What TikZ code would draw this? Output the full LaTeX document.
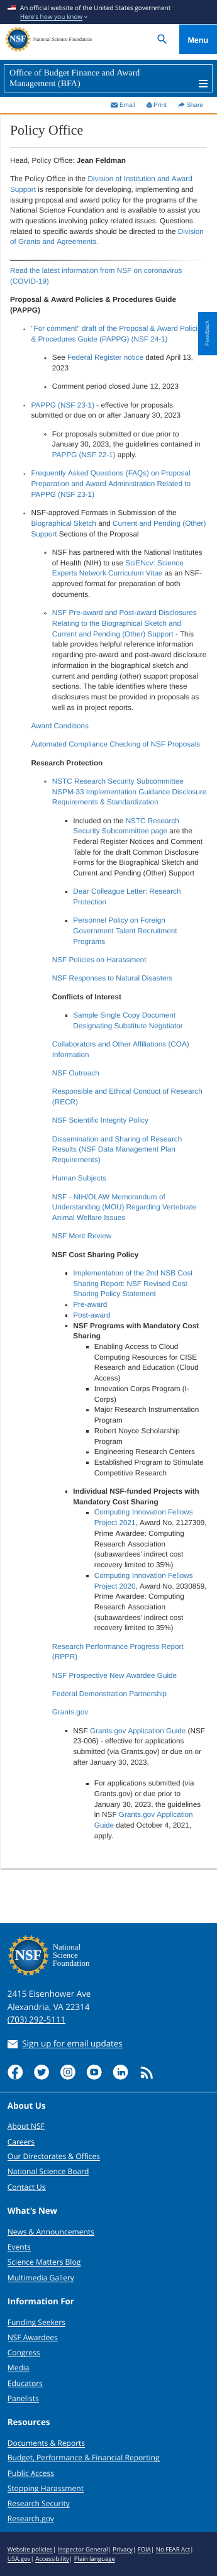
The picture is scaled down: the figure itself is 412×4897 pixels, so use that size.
\documentclass[tikz,border=0pt]{standalone}
\usepackage{fontspec}
\usepackage{xcolor}
\usetikzlibrary{positioning,shapes.geometric,calc}
\newfontfamily\bodyface{Liberation Sans}
\newfontfamily\titleface{Liberation Serif}
\newfontfamily\footface{Open Sans}
\definecolor{nsfInk}{HTML}{333333}
\definecolor{nsfLink}{HTML}{337AB7}
\definecolor{nsfNavy}{HTML}{1B2A4E}
\definecolor{nsfBlue}{HTML}{005EA2}
\definecolor{nsfBright}{HTML}{0071CE}
\definecolor{nsfOrange}{HTML}{E18A2B}
\definecolor{nsfGold}{HTML}{E0AE46}
\definecolor{nsfPale}{HTML}{BFE0F5}
\definecolor{nsfBall}{HTML}{3F8FE0}
\newcommand{\lk}[1]{\textcolor{nsfLink}{#1}}
\newcommand{\ulk}[1]{\setbox0\hbox{#1}\rlap{\rule[-2pt]{\wd0}{0.6pt}}\box0}
\newcommand{\nsfseal}[5]{%
  \foreach \a in {0,20,...,340}
    \node[star,star points=5,star point ratio=2.2,fill=nsfGold,inner sep=0pt,minimum size=#4] at ($(#1,#2)+(\a:#3*0.84)$) {};
  \draw[nsfGold,line width=#3*0.06] (#1,#2) circle (#3*0.76);
  \shade[inner color=nsfBall,outer color=nsfBlue!70!black] (#1,#2) circle (#3*0.74);
  \node[font=\titleface\bfseries\fontsize{#5}{#5}\selectfont,text=white,inner sep=0pt] at (#1,#2) {NSF};
}
\begin{document}
\begin{tikzpicture}[x=1pt,y=-1pt,
  para/.style={anchor=base west,inner sep=0pt,align=left,text=nsfInk,
    font=\bodyface\fontsize{14}{20}\selectfont\frenchspacing},
  toollink/.style={anchor=base west,inner sep=0pt,text=nsfLink,font=\bodyface\fontsize{12}{14}\selectfont},
  footline/.style={anchor=base west,inner sep=0pt,align=left,text=white,
    font=\footface\fontsize{16}{24}\selectfont},
  foothead/.style={footline,font=\footface\bfseries\fontsize{16}{20}\selectfont},
  footlink/.style={footline,font=\footface\fontsize{14.4}{20}\selectfont},
  legal/.style={footline,font=\footface\fontsize{11.5}{17.5}\selectfont},
  dotbul/.style={fill=nsfInk},
  ringbul/.style={draw=nsfInk,line width=0.8pt},
  sqbul/.style={fill=nsfInk}
]
\useasboundingbox (0,0) rectangle (412,4897);
\fill[white] (0,0) rectangle (412,4897);
\fill[nsfNavy] (0,0) rectangle (412,46);
\fill[nsfBright] (341,47) rectangle (412,103);
\fill[nsfBlue] (0,114) rectangle (412,184);
\draw[nsfPale,line width=0.7pt] (8,122.5) rectangle (403.5,175);
\fill[nsfOrange] (0,215) rectangle (412,218);
\fill[black!8] (0,218) rectangle (1,3552);
\shade[top color=black!30,bottom color=white] (1,3552) rectangle (412,3555);
\fill[black!14] (19,280) rectangle (392,280.7);
\shade[left color=black!55,right color=white] (19,494.6) rectangle (392,495.4);
\fill[nsfBlue] (0,3656) rectangle (412,4813);
\fill[nsfNavy] (0,4813) rectangle (412,4897);
\fill[nsfPale] (0,3976.6) rectangle (412,3977.4);

\fill[red!75!black] (14,9) rectangle (30,19);
\foreach \y in {10.4,12.8,15.2,17.6} \fill[white] (14,\y) rectangle (30,\y+1.2);
\fill[nsfBlue!70!black] (14,9) rectangle (21,14.5);
\node[anchor=base west,inner sep=0pt,text=white,font=\footface\fontsize{12}{14}\selectfont] (official) at (38,19.5) {An official website of the United States government};
\node[anchor=base west,inner sep=0pt,text=nsfPale,font=\footface\fontsize{12}{14}\selectfont] (howknow) at (38,36.5) {\ulk{Here's how you know}};
\draw[nsfPale,line width=0.7pt] (160.5,31) -- (163,33.5) -- (165.5,31);

\nsfseal{34}{74.5}{24.5}{8pt}{17}
\node[anchor=base west,inner sep=0pt,text=black!80,font=\titleface\fontsize{9.6}{12}\selectfont] (sealname) at (63,78) {National Science Foundation};
\draw[nsfBright!85!black,line width=1.6pt] (306,72) circle (6);
\draw[nsfBright!85!black,line width=2pt] (310.5,77) -- (316,82.5);
\node[inner sep=0pt,text=white,anchor=base,font=\bodyface\bfseries\fontsize{15}{17}\selectfont] (menu) at (376.5,82) {Menu};

\node[anchor=base west,inner sep=0pt,align=left,text=white,font=\titleface\fontsize{16.8}{20}\selectfont] (office) at (18,164) {Office of Budget Finance and Award\\Management (BFA)};
\foreach \y in {152,158,164} \fill[white] (378,\y) rectangle (395,\y+2.6);

\fill[nsfLink] (211,195) rectangle (223,204.5);
\draw[white,line width=0.8pt] (211,196.5) -- (217,201) -- (223,196.5);
\node[toollink] (email) at (227,204) {Email};
\fill[nsfLink] (280.5,195) rectangle (287,198) (278.5,198.5) rectangle (289,203) (280.5,203) rectangle (287,205);
\fill[white] (281,200.5) rectangle (286.5,201.5);
\node[toollink] (print) at (292,204) {Print};
\fill[nsfLink] (345,194) -- (351,198.5) -- (345,203) -- (345,200.5) .. controls (342.5,200.5) and (340.5,201.5) .. (339,204.5) .. controls (339,200) and (341,197) .. (345,196.5) -- cycle;
\node[toollink] (share) at (354,204) {Share};

\node[anchor=base west,inner sep=0pt,text=nsfInk,font=\titleface\fontsize{26}{28}\selectfont] (pagetitle) at (19,257) {Policy Office};

\node[para] (head) at (19,310) {Head, Policy Office: \textbf{Jean Feldman}};
\node[para] (intro) at (19,465) {The Policy Office in the \lk{Division of Institution and Award}\\\lk{Support} is responsible for developing, implementing and\\issuing proposal and award policy for the programs of the\\National Science Foundation and is available to assist you\\with questions involving policy related issues. Questions\\related to specific awards should be directed to the \lk{Division}\\\lk{of Grants and Agreements.}};
\node[para] (covid) at (19,540) {\lk{Read the latest information from NSF on coronavirus}\\\lk{(COVID-19)}};
\node[para] (pappg) at (19,595) {\textbf{Proposal \& Award Policies \& Procedures Guide}\\\textbf{(PAPPG)}};
\node[para] (draft) at (59,650) {\lk{"For comment" draft of the Proposal \& Award Policies}\\\lk{\& Procedures Guide (PAPPG) (NSF 24-1)}};
\node[para] (fednotice) at (99,705) {See \lk{Federal Register notice} dated April 13,\\2023};
\node[para] (closed) at (99,740) {Comment period closed June 12, 2023};
\node[para] (current) at (59,795) {\lk{PAPPG (NSF 23-1)} - effective for proposals\\submitted or due on or after January 30, 2023};
\node[para] (prior) at (99,870) {For proposals submitted or due prior to\\January 30, 2023, the guidelines contained in\\\lk{PAPPG (NSF 22-1)} apply.};
\node[para] (faqs) at (59,945) {\lk{Frequently Asked Questions (FAQs) on Proposal}\\\lk{Preparation and Award Administration Related to}\\\lk{PAPPG (NSF 23-1)}};
\node[para] (formats) at (59,1020) {NSF-approved Formats in Submission of the\\\lk{Biographical Sketch} and \lk{Current and Pending (Other)}\\\lk{Support} Sections of the Proposal};
\node[para] (partner) at (99,1135) {NSF has partnered with the National Institutes\\of Health (NIH) to use \lk{SciENcv: Science}\\\lk{Experts Network Curriculum Vitae} as an NSF-\\approved format for preparation of both\\documents.};
\node[para] (disclosures) at (99,1350) {\lk{NSF Pre-award and Post-award Disclosures}\\\lk{Relating to the Biographical Sketch and}\\\lk{Current and Pending (Other) Support} - This\\table provides helpful reference information\\regarding pre-award and post-award disclosure\\information in the biographical sketch and\\current and pending (other) support proposal\\sections. The table identifies where these\\disclosures must be provided in proposals as\\well as in project reports.};
\node[para] (conditions) at (59,1385) {\lk{Award Conditions}};
\node[para] (compliance) at (59,1420) {\lk{Automated Compliance Checking of NSF Proposals}};
\node[para] (protection) at (59,1455) {\textbf{Research Protection}};
\node[para] (nstc) at (99,1530) {\lk{NSTC Research Security Subcommittee}\\\lk{NSPM-33 Implementation Guidance Disclosure}\\\lk{Requirements \& Standardization}};
\node[para] (included) at (139,1665) {Included on the \lk{NSTC Research}\\\lk{Security Subcommittee page} are the\\Federal Register Notices and Comment\\Table for the draft Common Disclosure\\Forms for the Biographical Sketch and\\Current and Pending (Other) Support};
\node[para] (dcl) at (139,1720) {\lk{Dear Colleague Letter: Research}\\\lk{Protection}};
\node[para] (personnel) at (139,1795) {\lk{Personnel Policy on Foreign}\\\lk{Government Talent Recruitment}\\\lk{Programs}};
\node[para] (harass) at (99,1830) {\lk{NSF Policies on Harassment}};
\node[para] (disasters) at (99,1865) {\lk{NSF Responses to Natural Disasters}};
\node[para] (conflicts) at (99,1900) {\textbf{Conflicts of Interest}};
\node[para] (sample) at (139,1955) {\lk{Sample Single Copy Document}\\\lk{Designating Substitute Negotiator}};
\node[para] (coa) at (99,2010) {\lk{Collaborators and Other Affiliations (COA)}\\\lk{Information}};
\node[para] (outreach) at (99,2045) {\lk{NSF Outreach}};
\node[para] (recr) at (99,2100) {\lk{Responsible and Ethical Conduct of Research}\\\lk{(RECR)}};
\node[para] (integrity) at (99,2135) {\lk{NSF Scientific Integrity Policy}};
\node[para] (sharing) at (99,2210) {\lk{Dissemination and Sharing of Research}\\\lk{Results (NSF Data Management Plan}\\\lk{Requirements)}};
\node[para] (human) at (99,2245) {\lk{Human Subjects}};
\node[para] (olaw) at (99,2320) {\lk{NSF - NIH/OLAW Memorandum of}\\\lk{Understanding (MOU) Regarding Vertebrate}\\\lk{Animal Welfare Issues}};
\node[para] (merit) at (99,2355) {\lk{NSF Merit Review}};
\node[para] (cost) at (99,2390) {\textbf{NSF Cost Sharing Policy}};
\node[para] (nsb) at (139,2545) {\lk{Implementation of the 2nd NSB Cost}\\\lk{Sharing Report: NSF Revised Cost}\\\lk{Sharing Policy Statement}\\\lk{Pre-award}\\\lk{Post-award}\\\textbf{NSF Programs with Mandatory Cost}\\\textbf{Sharing}};
\node[para] (programs) at (179,2805) {Enabling Access to Cloud\\Computing Resources for CISE\\Research and Education (Cloud\\Access)\\Innovation Corps Program (I-\\Corps)\\Major Research Instrumentation\\Program\\Robert Noyce Scholarship\\Program\\Engineering Research Centers\\Established Program to Stimulate\\Competitive Research};
\node[para] (individual) at (139,2860) {\textbf{Individual NSF-funded Projects with}\\\textbf{Mandatory Cost Sharing}};
\node[para] (fellows) at (179,3100) {\lk{Computing Innovation Fellows}\\\lk{Project 2021}, Award No. 2127309,\\Prime Awardee: Computing\\Research Association\\(subawardees' indirect cost\\recovery limited to 35\%)\\\lk{Computing Innovation Fellows}\\\lk{Project 2020}, Award No. 2030859,\\Prime Awardee: Computing\\Research Association\\(subawardees' indirect cost\\recovery limited to 35\%)};
\node[para] (rppr) at (99,3155) {\lk{Research Performance Progress Report}\\\lk{(RPPR)}};
\node[para] (newaward) at (99,3190) {\lk{NSF Prospective New Awardee Guide}};
\node[para] (fdp) at (99,3225) {\lk{Federal Demonstration Partnership}};
\node[para] (grants) at (99,3260) {\lk{Grants.gov}};
\node[para] (appguide) at (139,3355) {NSF \lk{Grants.gov Application Guide} (NSF\\23-006) - effective for applications\\submitted (via Grants.gov) or due on or\\after January 30, 2023.};
\node[para] (oldguide) at (179,3495) {For applications submitted (via\\Grants.gov) or due prior to\\January 30, 2023, the guidelines\\in NSF \lk{Grants.gov Application}\\\lk{Guide} dated October 4, 2021,\\apply.};

\foreach \y in {630,775,905,980} \fill[dotbul] (46,\y-4) circle (1.6);
\foreach \y in {685,740,830,1055,1170,1490} \draw[ringbul] (86,\y-4) circle (1.8);
\foreach \y in {1565,1700,1755,1935,2425,2485,2505,2525,2840,3295} \fill[sqbul] (124,\y-6) rectangle (128,\y-2);
\foreach \y in {2565,2645,2685,2725,2765,2785,2880,3000,3395} \fill[sqbul] (164,\y-6) rectangle (168,\y-2);

\nsfseal{54}{3717.5}{40}{12.5pt}{27}
\node[footline,font=\titleface\fontsize{15.4}{15.7}\selectfont] (footname) at (100,3738.4) {National\\Science\\Foundation};
\node[footline] (address) at (14,3845) {2415 Eisenhower Ave\\Alexandria, VA 22314\\\ulk{(703) 292-5111}};
\fill[white] (14,3878) rectangle (34,3894);
\draw[nsfBlue,line width=0.9pt] (14,3879) -- (24,3887) -- (34,3879);
\node[footline] (signup) at (42,3891) {\ulk{Sign up for email updates}};

\foreach \x in {29,79,129,179,229} \fill[white] (\x,3939) circle (14.3);
\fill[nsfBlue] (26,3953) -- (26,3942) -- (23,3942) -- (23,3938) -- (26,3938) -- (26,3935) .. controls (26,3931.5) and (28.5,3930) .. (31,3930) -- (34,3930) -- (34,3934) -- (32,3934) .. controls (31,3934) and (30.5,3934.5) .. (30.5,3935.5) -- (30.5,3938) -- (34,3938) -- (33.4,3942) -- (30.5,3942) -- (30.5,3953) -- cycle;
\begin{scope}[shift={(79,3939.5)}]
\fill[nsfBlue] (-8,5) .. controls (-4,8) and (5,8) .. (7,-3) -- (9,-5) -- (6.5,-4.5) -- (8,-6.5) -- (5.5,-5.5) .. controls (3,-8) and (-1,-6) .. (0,-3) .. controls (-3,-3) and (-6,-5) .. (-7.5,-6.5) .. controls (-8.5,-4) and (-7.5,-2) .. (-6,-1) -- (-8,-1.5) .. controls (-8,0.5) and (-6.5,1.5) .. (-5,2) -- (-7,2) .. controls (-6.5,3.5) and (-5,4) .. (-3.5,4.2) .. controls (-5,5) and (-6.5,5.2) .. (-8,5) -- cycle;
\end{scope}
\draw[nsfBlue!75!black,line width=1.2pt,rounded corners=3pt] (121.5,3931.5) rectangle (136.5,3946.5);
\draw[nsfBlue!75!black,line width=1.2pt] (129,3939) circle (3.6);
\fill[nsfBlue!75!black] (133.3,3934.7) circle (1);
\fill[nsfBlue,rounded corners=3pt] (171.5,3933) rectangle (186.5,3945);
\fill[white] (177,3936) -- (182.5,3939) -- (177,3942) -- cycle;
\fill[nsfBlue] (223.2,3936.5) rectangle (226.6,3945.5);
\fill[nsfBlue] (224.9,3933.3) circle (1.9);
\fill[nsfBlue] (228.5,3936.5) rectangle (231.7,3945.5);
\draw[nsfBlue,line width=3pt] (230.5,3941) .. controls (231,3937.5) and (236.5,3936.5) .. (236.5,3941) -- (236.5,3945.5);
\fill[white] (271,3947) circle (3.6);
\draw[white,line width=3.6pt] (267.5,3939.5) .. controls (274.5,3939.5) and (279.5,3944.5) .. (279.5,3951.5);
\draw[white,line width=3.6pt] (267.5,3930.5) .. controls (279.5,3930.5) and (288.5,3939.5) .. (288.5,3951.5);

\node[foothead] (abouthead) at (14,4009) {About Us};
\foreach \y/\t in {4047/About NSF,4077/Careers,4105/Our Directorates \& Offices,4134/National Science Board,4163/Contact Us}
  \node[footlink] (about\y) at (14,\y) {\ulk{\t}};
\node[foothead] (newhead) at (14,4209) {What's New};
\foreach \y/\t in {4248/News \& Announcements,4277/Events,4306/Science Matters Blog,4336/Multimedia Gallery}
  \node[footlink] (new\y) at (14,\y) {\ulk{\t}};
\node[foothead] (forhead) at (14,4381) {Information For};
\foreach \y/\t in {4421/Funding Seekers,4449/NSF Awardees,4478/Congress,4507/Media,4536/Educators,4565/Panelists}
  \node[footlink] (for\y) at (14,\y) {\ulk{\t}};
\node[foothead] (reshead) at (14,4611) {Resources};
\foreach \y/\t in {4650/Documents \& Reports,{4678/Budget, Performance \& Financial Reporting},4707/Public Access,4736/Stopping Harassment,4765/Research Security,4794/Research.gov}
  \node[footlink] (res\y) at (14,\y) {\ulk{\t}};
\node[legal] (policies) at (14,4869) {\ulk{Website policies} | \ulk{Inspector General} | \ulk{Privacy} | \ulk{FOIA} | \ulk{No FEAR Act} |\\\ulk{USA.gov} | \ulk{Accessibility} | \ulk{Plain language}};

\fill[nsfBright] (377,593) rectangle (412,676);
\node[rotate=90,inner sep=0pt,text=nsfPale,font=\bodyface\fontsize{11}{12}\selectfont] (feedback) at (393.5,634) {Feedback};
\end{tikzpicture}
\end{document}
